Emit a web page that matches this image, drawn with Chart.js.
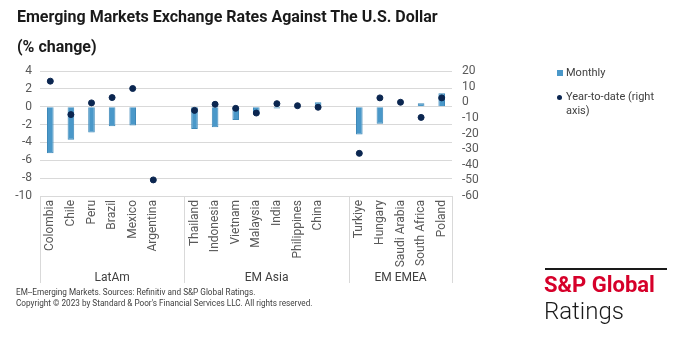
<!DOCTYPE html>
<html>
<head>
<meta charset="utf-8">
<script src="https://cdn.jsdelivr.net/npm/chart.js@4"></script>
<style>
    body { margin: 0; background: #fff; font-family: Roboto, sans-serif; }
    #wrap { position: relative; width: 680px; height: 340px; overflow: hidden; }
    #myChart { position: absolute; left: 0; top: 0; }
    .title { position: absolute; left: 17px; top: 7px; font-size: 16px; font-weight: bold; color: #1a1a1a; }
    .subtitle { position: absolute; left: 17px; top: 37px; font-size: 16px; font-weight: bold; color: #1a1a1a; }
    .legend { position: absolute; left: 557px; font-size: 11px; color: #404040; line-height: 14px; }
    .legend .sw { position: absolute; left: 0; }
    .legend .txt { position: absolute; left: 9px; width: 110px; }
    .note { position: absolute; left: 16px; font-size: 8.2px; color: #404040; }
    .rule { position: absolute; left: 545px; top: 268px; width: 122px; height: 2px; background: #1a1a1a; }
    .brand { position: absolute; left: 544px; top: 272px; font-size: 22px; font-weight: bold; color: #d6002a; }
    .ratings { position: absolute; left: 544px; top: 297px; font-size: 24px; font-weight: 300; color: #1a1a1a; }
</style>
</head>
<body>
<div id="wrap">
    <canvas id="myChart" width="680" height="340"></canvas>
    <div class="title">Emerging Markets Exchange Rates Against The U.S. Dollar</div>
    <div class="subtitle">(% change)</div>
    <div class="legend" style="top:66px">
        <div class="sw" style="top:4px;width:6px;height:6px;background:#4a98c9"></div>
        <div class="txt">Monthly</div>
    </div>
    <div class="legend" style="top:90px">
        <div class="sw" style="top:5px;width:5px;height:5px;border-radius:50%;background:#0b2650"></div>
        <div class="txt">Year-to-date (right<br>axis)</div>
    </div>
    <div class="note" style="top:287px">EM--Emerging Markets. Sources: Refinitiv and S&amp;P Global Ratings.</div>
    <div class="note" style="top:298px">Copyright © 2023 by Standard &amp; Poor's Financial Services LLC. All rights reserved.</div>
    <div class="rule"></div>
    <div class="brand">S&amp;P Global</div>
    <div class="ratings">Ratings</div>
</div>
<script>
// blank slots ("") separate the regional groups
const categories = ["Colombia", "Chile", "Peru", "Brazil", "Mexico", "Argentina", "",
    "Thailand", "Indonesia", "Vietnam", "Malaysia", "India", "Philippines", "China", "",
    "Turkiye", "Hungary", "Saudi Arabia", "South Africa", "Poland"];
const monthly = [-5.2, -3.7, -2.9, -2.2, -2.1, null, null,
    -2.5, -2.3, -1.5, -0.9, -0.2, 0, 0.5, null,
    -3.1, -1.9, 0, 0.4, 1.5];
const ytd = [13.5, -7.9, -0.4, 3.0, 8.8, -49.7, null,
    -5.2, -1.3, -3.9, -6.9, -0.9, -2.2, -3.2, null,
    -32.7, 2.8, 0, -9.7, 2.8];
const groups = ["LatAm", "EM Asia", "EM EMEA"];
const groupSizes = [7, 8, 5];
const leftTicks = { min: -10, max: 4, step: 2 };
const rightTicks = { min: -60, max: 20, step: 10 };

const tickFont = { family: "Roboto", size: 12 };
const tickColor = "#595959";

// group separators and group names under the category labels
const groupAxis = {
    id: "groupAxis",
    afterDraw(chart) {
        const ctx = chart.ctx;
        const x = chart.scales.x;
        const top = chart.chartArea.bottom;
        let start = 0;
        ctx.save();
        ctx.strokeStyle = "#d9d9d9";
        ctx.lineWidth = 1;
        ctx.fillStyle = "#404040";
        ctx.font = "12px Roboto";
        ctx.textAlign = "center";
        ctx.textBaseline = "middle";
        const edge = (i) => x.getPixelForValue(i - 0.5);
        for (let g = 0; g < groups.length; g++) {
            const end = start + groupSizes[g];
            const x0 = edge(start), x1 = edge(end);
            for (const px of [x0, x1]) {
                ctx.beginPath();
                ctx.moveTo(Math.round(px) + 0.5, top);
                ctx.lineTo(Math.round(px) + 0.5, top + 87);
                ctx.stroke();
            }
            ctx.fillText(groups[g], (x0 + x1) / 2, top + 82);
            start = end;
        }
        ctx.restore();
    },
};

new Chart("myChart", {
    type: "bar",
    data: {
        labels: categories,
        datasets: [
            {
                label: "Monthly",
                data: monthly,
                backgroundColor: "#4a98c9",
                borderColor: "#3d88b8",
                borderWidth: 1,
                categoryPercentage: 1,
                barPercentage: 0.32,
                yAxisID: "y",
                order: 2,
            },
            {
                type: "line",
                label: "Year-to-date (right axis)",
                data: ytd,
                showLine: false,
                pointRadius: 3,
                pointBackgroundColor: "#0b2650",
                pointBorderColor: "#0b2650",
                yAxisID: "y2",
                order: 1,
            },
        ],
    },
    options: {
        responsive: false,
        animation: false,
        layout: { padding: { top: 71, left: 0, right: 188, bottom: 49 } },
        plugins: {
            legend: { display: false },
            tooltip: { enabled: false },
        },
        scales: {
            x: {
                grid: { display: false, drawTicks: false },
                border: { display: false },
                ticks: {
                    autoSkip: false,
                    maxRotation: 90,
                    minRotation: 90,
                    padding: 4,
                    font: tickFont,
                    color: tickColor,
                },
                afterFit: (s) => { s.height = 95; },
            },
            y: {
                position: "left",
                min: leftTicks.min,
                max: leftTicks.max,
                grid: { color: "#d9d9d9", drawTicks: false },
                border: { display: false },
                ticks: { stepSize: leftTicks.step, autoSkip: false, padding: 8, font: tickFont, color: tickColor },
                afterFit: (s) => { s.width = 40; },
            },
            y2: {
                position: "right",
                min: rightTicks.min,
                max: rightTicks.max,
                grid: { display: false, drawTicks: false },
                border: { display: false },
                ticks: { stepSize: rightTicks.step, autoSkip: false, padding: 10, font: tickFont, color: tickColor },
                afterFit: (s) => { s.width = 40; },
            },
        },
    },
    plugins: [groupAxis],
});
</script>
</body>
</html>
